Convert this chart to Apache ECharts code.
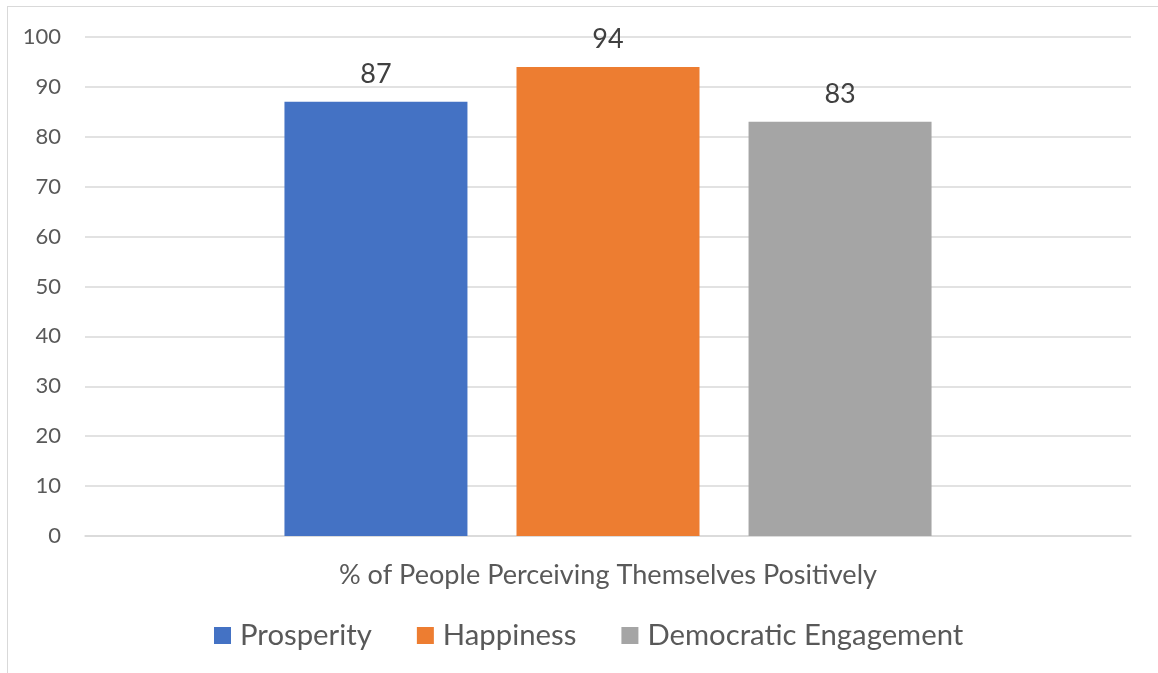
<!DOCTYPE html>
<html><head><meta charset="utf-8">
<script src="https://cdn.jsdelivr.net/npm/echarts@6/dist/echarts.min.js"></script>
<style>
html,body{margin:0;padding:0;background:#fff;}
#frame{position:absolute;left:7px;top:6px;width:1200px;height:720px;border:1.5px solid #d9d9d9;box-sizing:border-box;}
#chart{position:absolute;left:0;top:0;width:1158px;height:673px;}
</style></head>
<body>
<div id="frame"></div>
<div id="chart"></div>
<script>
const categories = ['% of People Perceiving Themselves Positively'];
const seriesNames = ['Prosperity', 'Happiness', 'Democratic Engagement'];
const prosperity = [87];
const happiness = [94];
const democraticEngagement = [83];
const colors = ['#4472C4', '#ED7D31', '#A5A5A5'];
const FONT = 'Lato, Carlito, sans-serif';

const values = [prosperity, happiness, democraticEngagement];
const chart = echarts.init(document.getElementById('chart'));
chart.setOption({
  animation: false,
  textStyle: { fontFamily: FONT },
  grid: { left: 85, right: 27, top: 37, bottom: 137 },
  legend: {
    left: 214, top: 621, padding: 0,
    itemWidth: 17, itemHeight: 17, itemGap: 45,
    icon: 'rect',
    textStyle: { fontSize: 29.3, color: '#595959', fontFamily: FONT, padding: [0, 0, 0, 4] },
    data: seriesNames
  },
  xAxis: {
    type: 'category', data: categories,
    axisLine: { lineStyle: { color: '#d9d9d9', width: 1.5 } },
    axisTick: { show: false },
    axisLabel: { color: '#595959', fontSize: 27.1, margin: 26, fontFamily: FONT }
  },
  yAxis: {
    type: 'value', min: 0, max: 100, interval: 10,
    axisLine: { show: false }, axisTick: { show: false },
    splitLine: { lineStyle: { color: '#d9d9d9', width: 1.5 } },
    axisLabel: { color: '#595959', fontSize: 22, margin: 24, fontFamily: FONT }
  },
  series: seriesNames.map((n, i) => ({
    name: n, type: 'bar', data: values[i],
    barWidth: 183, barGap: '26.8%',
    itemStyle: { color: colors[i] },
    label: { show: true, position: 'top', distance: 14, fontSize: 27, color: '#404040', fontFamily: FONT }
  }))
});
</script>
</body></html>
